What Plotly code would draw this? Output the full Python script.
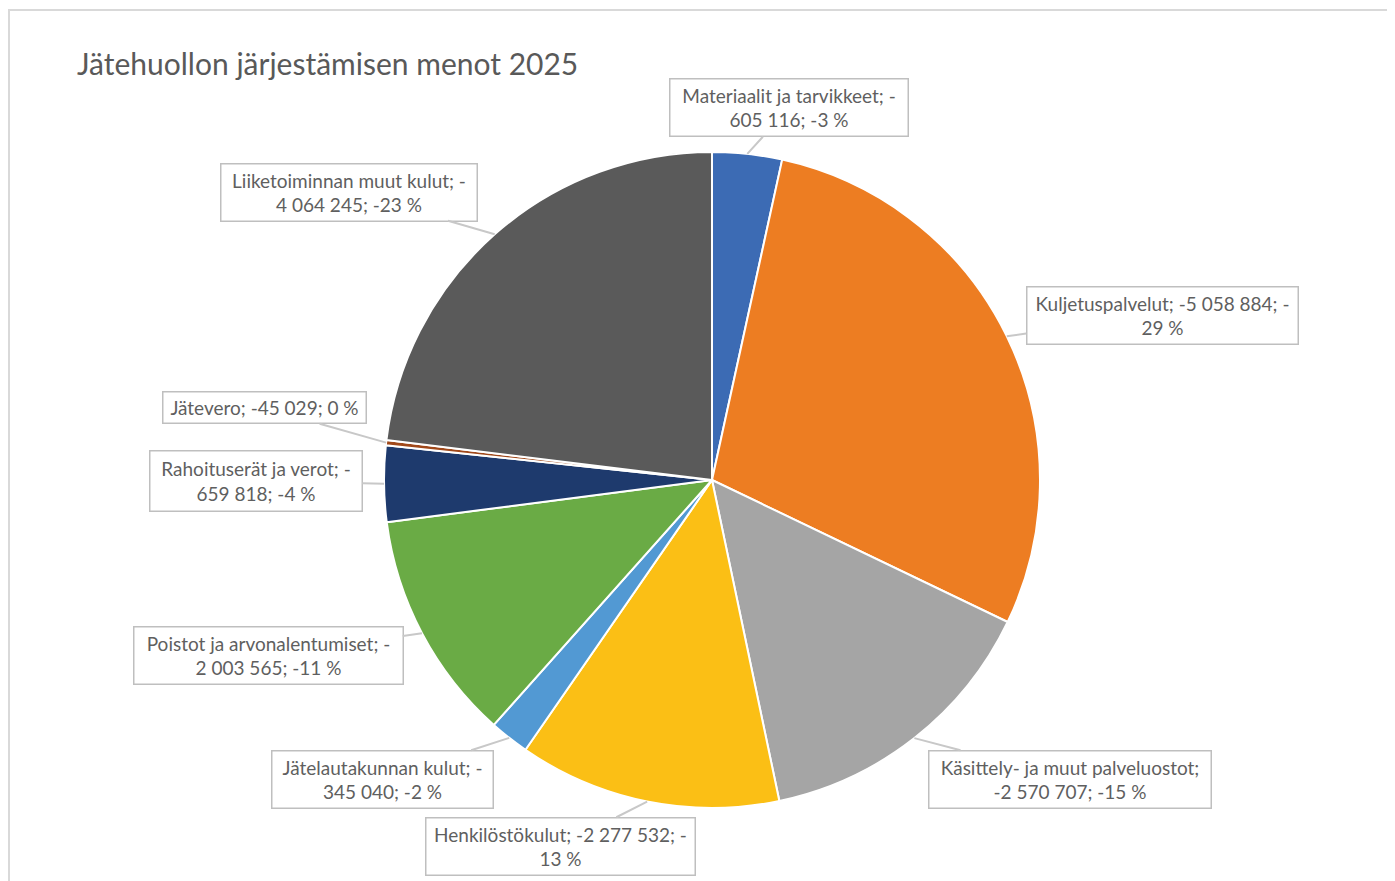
import math
import plotly.graph_objects as go

# ---- data ----
categories = [
    "Materiaalit ja tarvikkeet",
    "Kuljetuspalvelut",
    "Käsittely- ja muut palveluostot",
    "Henkilöstökulut",
    "Jätelautakunnan kulut",
    "Poistot ja arvonalentumiset",
    "Rahoituserät ja verot",
    "Jätevero",
    "Liiketoiminnan muut kulut",
]
values = [-605116, -5058884, -2570707, -2277532, -345040, -2003565, -659818, -45029, -4064245]
label_texts = [
    "Materiaalit ja tarvikkeet; -<br>605 116; -3 %",
    "Kuljetuspalvelut; -5 058 884; -<br>29 %",
    "Käsittely- ja muut palveluostot;<br>-2 570 707; -15 %",
    "Henkilöstökulut; -2 277 532; -<br>13 %",
    "Jätelautakunnan kulut; -<br>345 040; -2 %",
    "Poistot ja arvonalentumiset; -<br>2 003 565; -11 %",
    "Rahoituserät ja verot; -<br>659 818; -4 %",
    "Jätevero; -45 029; 0 %",
    "Liiketoiminnan muut kulut; -<br>4 064 245; -23 %",
]
colors = ["#3C6BB4", "#ED7D22", "#A5A5A5", "#FBBF15", "#5299D3",
          "#6AAB45", "#1E3A6D", "#A0481A", "#5A5A5A"]

# ---- layout geometry (pixels, as seen in the screenshot) ----
W, H = 1395, 881
OFF = 8  # page body margin
CX, CY, R = 712 - OFF, 480 - OFF, 328
box_centres = [(789, 108), (1162, 315), (1070, 779), (560, 846), (383, 779),
               (268, 655), (256, 481), (264, 408), (349, 192)]
box_sizes = [(240, 59), (273, 59), (284, 59), (271, 59), (223, 59),
             (271, 59), (214, 62), (205, 33), (258, 59)]

abs_vals = [abs(v) for v in values]
total = sum(abs_vals)

fig = go.Figure(go.Pie(
    labels=categories,
    values=abs_vals,
    sort=False,
    direction="clockwise",
    rotation=0,
    marker=dict(colors=colors, line=dict(color="white", width=2)),
    textinfo="none",
    hoverinfo="label+value+percent",
    showlegend=False,
    domain=dict(x=[(CX - R) / W, (CX + R) / W],
                y=[1 - (CY + R) / H, 1 - (CY - R) / H]),
))

FONT = "Lato, Open Sans, sans-serif"
annotations = []
cum = 0
for txt, v, (bx, by), (bw, bh) in zip(label_texts, abs_vals, box_centres, box_sizes):
    bx -= OFF
    by -= OFF
    mid = (cum + v / 2) / total * 2 * math.pi
    cum += v
    px = CX + R * math.sin(mid)
    py = CY - R * math.cos(mid)
    annotations.append(dict(
        x=px / W, y=1 - py / H, xref="paper", yref="paper",
        ax=bx - px, ay=by - py, axref="pixel", ayref="pixel",
        text=txt, showarrow=True, arrowhead=0, arrowwidth=2,
        arrowcolor="#C8C8C8",
        font=dict(family=FONT, size=19, color="#5F5F5F"),
        align="center", bgcolor="white", bordercolor="#BFBFBF", borderwidth=1.5,
        borderpad=4, width=bw - 11, height=bh - 11,
    ))

annotations.append(dict(
    x=(75 - OFF) / W, y=1 - (63 - OFF) / H, xref="paper", yref="paper",
    xanchor="left", yanchor="middle",
    text="Jätehuollon järjestämisen menot 2025", showarrow=False,
    font=dict(family=FONT, size=30, color="#595959"),
))

fig.update_layout(
    width=W, height=H,
    margin=dict(l=0, r=0, t=0, b=0),
    paper_bgcolor="white",
    annotations=annotations,
    shapes=[dict(type="rect", xref="paper", yref="paper",
                 x0=1 / W, x1=(1393 - OFF) / W, y0=-0.01, y1=1 - (10 - OFF) / H,
                 line=dict(color="#D9D9D9", width=2), fillcolor="rgba(0,0,0,0)", layer="below")],
)

fig.write_html("out.html")
